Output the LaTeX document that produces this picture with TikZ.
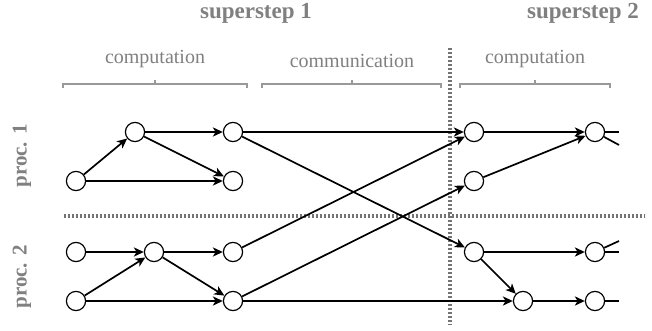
\documentclass[tikz,border=0pt]{standalone}
\usepackage{fontspec}
\setmainfont{Liberation Serif}
\usetikzlibrary{arrows.meta}
\definecolor{lab}{HTML}{808080}
\definecolor{sepc}{HTML}{747474}
\begin{document}
\begin{tikzpicture}[x=0.5pt,y=-0.5pt,
  vtx/.style={circle,draw,fill=white,inner sep=0pt,minimum size=9.6pt,line width=0.6pt},
  edge/.style={line width=0.85pt,-{Stealth[length=5pt,width=4.6pt,inset=1.4pt]}},
  stub/.style={line width=0.85pt},
  sep/.style={draw=sepc,line width=1.6pt,dash pattern=on 1.1pt off 0.9pt},
  brk/.style={draw=lab!80,line width=0.55pt},
  phase/.style={text=lab,font=\fontsize{10}{12}\selectfont},
  head/.style={text=lab,font=\fontsize{11.5}{13}\selectfont\bfseries},
  proc/.style={text=lab,font=\fontsize{10.5}{12}\selectfont\bfseries,rotate=90}]
\useasboundingbox (0,0) rectangle (652,331);
% separators
\draw[sep] (450,48) -- (450,325);
\draw[sep] (64,216) -- (645,216);
% brackets
\draw[brk] (63,88) -- (63,84) -- (247,84) -- (247,88) (155,84) -- (155,80);
\draw[brk] (262,88) -- (262,84) -- (441,84) -- (441,88) (352,84) -- (352,80);
\draw[brk] (460,88) -- (460,84) -- (610,84) -- (610,88) (535,84) -- (535,80);
% labels
\node[phase] (l1) at (155,59) {computation};
\node[phase] (l2) at (352,61) {communication};
\node[phase] (l3) at (535,59) {computation};
\node[head] (s1) at (256,13) {superstep 1};
\node[head] (s2) at (583,13) {superstep 2};
\node[proc] (p1) at (22,156) {proc. 1};
\node[proc] (p2) at (22,277) {proc. 2};
% nodes
\node[vtx] (a1) at (76,181) {};
\node[vtx] (a2) at (135,132) {};
\node[vtx] (a3) at (233,132) {};
\node[vtx] (a4) at (233,181) {};
\node[vtx] (b1) at (76,252) {};
\node[vtx] (b2) at (154,252) {};
\node[vtx] (b3) at (233,252) {};
\node[vtx] (b4) at (76,301) {};
\node[vtx] (b5) at (233,301) {};
\node[vtx] (c1) at (474,132) {};
\node[vtx] (c2) at (595,132) {};
\node[vtx] (c3) at (474,181) {};
\node[vtx] (d1) at (474,252) {};
\node[vtx] (d2) at (595,252) {};
\node[vtx] (d3) at (523,301) {};
\node[vtx] (d4) at (595,301) {};
\coordinate (e1) at (619,132);
\coordinate (e2) at (619,145);
\coordinate (e3) at (619,252);
\coordinate (e4) at (619,241);
\coordinate (e5) at (619,301);
% edges
\draw[edge] (a1) -- (a2);
\draw[edge] (a1) -- (a4);
\draw[edge] (a2) -- (a3);
\draw[edge] (a2) -- (a4);
\draw[edge] (a3) -- (c1);
\draw[edge] (a3) -- (d1);
\draw[edge] (b1) -- (b2);
\draw[edge] (b4) -- (b2);
\draw[edge] (b2) -- (b3);
\draw[edge] (b2) -- (b5);
\draw[edge] (b4) -- (b5);
\draw[edge] (b3) -- (c1);
\draw[edge] (b5) -- (c3);
\draw[edge] (b5) -- (d3);
\draw[edge] (c1) -- (c2);
\draw[edge] (c3) -- (c2);
\draw[edge] (d1) -- (d2);
\draw[edge] (d1) -- (d3);
\draw[edge] (d3) -- (d4);
\draw[stub] (c2) -- (e1);
\draw[stub] (c2) -- (e2);
\draw[stub] (d2) -- (e3);
\draw[stub] (d2) -- (e4);
\draw[stub] (d4) -- (e5);
\end{tikzpicture}
\end{document}
